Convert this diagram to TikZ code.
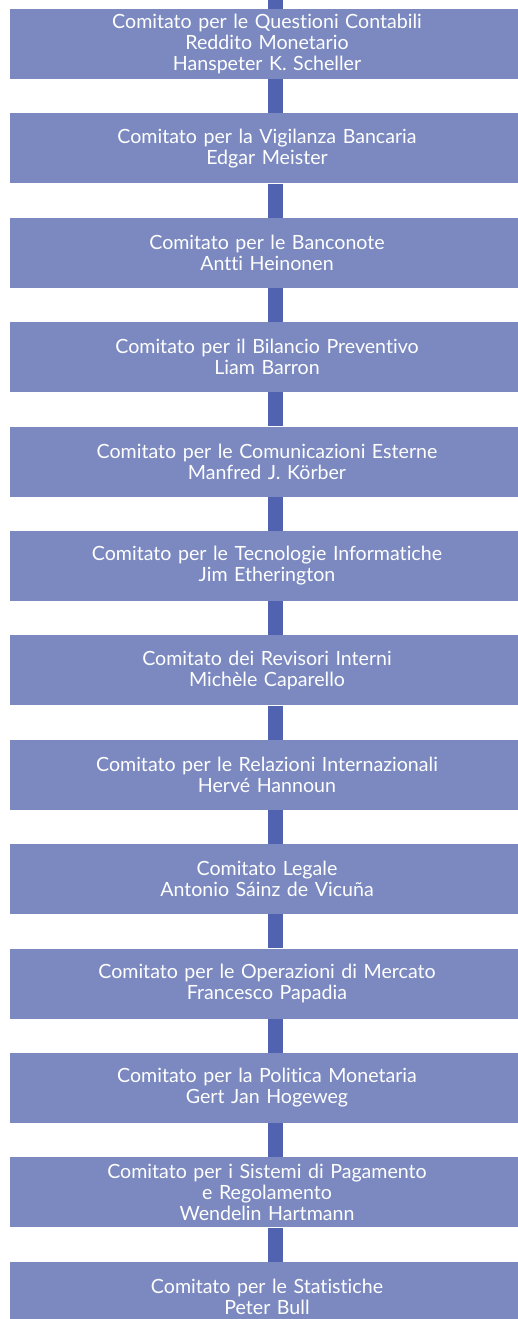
\documentclass[tikz,border=0pt]{standalone}
\usepackage{fontspec}
\setmainfont[Ligatures=NoCommon]{Lato}
\usetikzlibrary{positioning,backgrounds}

\definecolor{boxblue}{RGB}{123,137,192}
\definecolor{spineblue}{RGB}{80,98,176}

\tikzset{
  comitato/.style={fill=boxblue, text=white, minimum width=514pt, minimum height=70pt,
    text width=500pt, align=center, inner sep=0pt,
    font=\fontsize{19.6}{21}\selectfont},
  spine/.style={spineblue, line width=15pt}
}

\begin{document}
\begin{tikzpicture}[x=1pt,y=1pt]
\useasboundingbox (0,0) rectangle (517,-1319);
\coordinate (top) at (275.5,0);

\node[comitato] (contab) at (267,-44) {Comitato per le Questioni Contabili\\Reddito Monetario\\Hanspeter K. Scheller};
\node[comitato, below=34pt of contab] (vigil) {Comitato per la Vigilanza Bancaria\\Edgar Meister};
\node[comitato, below=34pt of vigil] (banco) {Comitato per le Banconote\\Antti Heinonen};
\node[comitato, below=34pt of banco] (bilan) {Comitato per il Bilancio Preventivo\\Liam Barron};
\node[comitato, below=34pt of bilan] (comun) {Comitato per le Comunicazioni Esterne\\Manfred J. Körber};
\node[comitato, below=34pt of comun] (tecno) {Comitato per le Tecnologie Informatiche\\Jim Etherington};
\node[comitato, below=34pt of tecno] (revis) {Comitato dei Revisori Interni\\Michèle Caparello};
\node[comitato, below=34pt of revis] (relaz) {Comitato per le Relazioni Internazionali\\Hervé Hannoun};
\node[comitato, below=34pt of relaz] (legal) {Comitato Legale\\Antonio Sáinz de Vicuña};
\node[comitato, below=34pt of legal] (merca) {Comitato per le Operazioni di Mercato\\Francesco Papadia};
\node[comitato, below=34pt of merca] (polit) {Comitato per la Politica Monetaria\\Gert Jan Hogeweg};
\node[comitato, below=34pt of polit] (pagam) {Comitato per i Sistemi di Pagamento\\e Regolamento\\Wendelin Hartmann};
\node[comitato, below=34pt of pagam] (stati) {Comitato per le Statistiche\\Peter Bull};

% spine behind the boxes
\begin{scope}[on background layer]
\draw[spine] (top) -- ([xshift=8.5pt]contab.north);
\foreach \a/\b in {contab/vigil,vigil/banco,banco/bilan,bilan/comun,comun/tecno,tecno/revis,
  revis/relaz,relaz/legal,legal/merca,merca/polit,polit/pagam,pagam/stati}
  \draw[spine] ([xshift=8.5pt]\a.south) -- ([xshift=8.5pt]\b.north);
\end{scope}
\end{tikzpicture}
\end{document}
